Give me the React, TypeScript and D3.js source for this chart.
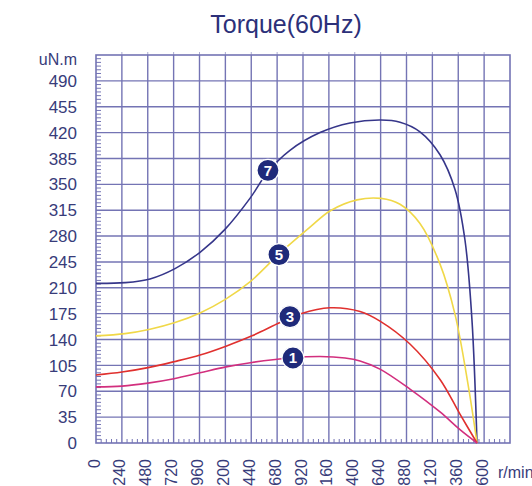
import React from "react";
import * as d3 from "d3";

const title = "Torque(60Hz)";
const yUnit = "uN.m";
const xUnit = "r/min";
const xTicks = [0, 240, 480, 720, 960, 1200, 1440, 1680, 1920, 2160, 2400, 2640, 2880, 3120, 3360, 3600];
const yTicks = [0, 35, 70, 105, 140, 175, 210, 245, 280, 315, 350, 385, 420, 455, 490];

const rpm7 = [0, 269, 501, 733, 965, 1196, 1428, 1595, 1799, 2078, 2356, 2643, 2820, 3005, 3191, 3330, 3422, 3487, 3534];
const torque7 = [216, 217, 222, 236, 258, 289, 331, 367, 396, 420, 433, 437, 434, 421, 390, 343, 275, 167, 0];

const rpm5 = [0, 269, 501, 733, 965, 1196, 1428, 1707, 1985, 2170, 2421, 2643, 2820, 3005, 3191, 3330, 3450, 3534];
const torque5 = [145, 148, 154, 163, 176, 194, 218, 257, 292, 314, 329, 331, 323, 297, 242, 174, 80, 0];

const rpm3 = [0, 241, 482, 723, 965, 1206, 1447, 1707, 1900, 2170, 2449, 2634, 2912, 3191, 3376, 3534];
const torque3 = [92, 96, 102, 110, 119, 131, 145, 163, 175, 183, 178, 165, 134, 86, 39, 0];

const rpm1 = [0, 241, 482, 723, 965, 1206, 1447, 1799, 2078, 2310, 2449, 2634, 2912, 3191, 3376, 3534];
const torque1 = [76, 77, 81, 87, 95, 103, 109, 115, 117, 115, 111, 100, 73, 42, 18, 0];

const seriesNames = ["7", "5", "3", "1"];
const seriesColors = ["#36368a", "#f0d848", "#e0302e", "#d22f7e"];
const markerRpm = [1595, 1697, 1799, 1827];
const markerTorque = [369, 255, 171, 115];

export default function App() {
  const left = 96, right = 510, top = 55, bottom = 443;
  const x = d3.scaleLinear().domain([0, 3840]).range([left, right]);
  const y = d3.scaleLinear().domain([0, 525]).range([bottom, top]);
  const grid = "#7474b4";
  const textColor = "#383c7a";
  const font = "'Liberation Sans', Arial, sans-serif";

  const series = [
    { rpm: rpm7, t: torque7 },
    { rpm: rpm5, t: torque5 },
    { rpm: rpm3, t: torque3 },
    { rpm: rpm1, t: torque1 },
  ];
  const line = d3
    .line<[number, number]>()
    .x((d) => x(d[0]))
    .y((d) => y(d[1]))
    .curve(d3.curveCatmullRom.alpha(0.5));

  const minorY = d3.range(0, 525, 5).filter((v) => v % 35 !== 0);
  const minorX = d3.range(0, 3840, 48).filter((v) => v % 240 !== 0);
  const vGrid = d3.range(240, 3840, 240);
  const hGrid = d3.range(35, 525, 35);

  return (
    <svg width={532} height={486} style={{ position: "absolute", left: 0, top: 0, background: "#fff" }} fontFamily={font}>
      <rect x={0} y={0} width={532} height={486} fill="#fff" />
      <text x={286} y={33} textAnchor="middle" fontSize={25} fill="#2c3079">{title}</text>
      {hGrid.map((v) => (
        <line key={"h" + v} x1={left} x2={right} y1={y(v)} y2={y(v)} stroke={grid} strokeWidth={1.4} />
      ))}
      {vGrid.map((v) => (
        <line key={"v" + v} x1={x(v)} x2={x(v)} y1={top} y2={bottom} stroke={grid} strokeWidth={1.4} />
      ))}
      {vGrid.map((v) => (
        <line key={"tt" + v} x1={x(v)} x2={x(v)} y1={top - 3} y2={top} stroke={grid} strokeWidth={1} opacity={0.6} />
      ))}
      {minorY.map((v) => (
        <line key={"my" + v} x1={left} x2={left + 5} y1={y(v)} y2={y(v)} stroke={grid} strokeWidth={1} />
      ))}
      {minorX.map((v) => (
        <line key={"mx" + v} x1={x(v)} x2={x(v)} y1={bottom} y2={bottom - 4} stroke={grid} strokeWidth={1} />
      ))}
      <rect x={left} y={top} width={right - left} height={bottom - top} fill="none" stroke={grid} strokeWidth={1.6} />
      {series.map((s, i) => (
        <path
          key={"s" + i}
          d={line(s.rpm.map((r, j) => [r, s.t[j]] as [number, number])) || ""}
          fill="none"
          stroke={seriesColors[i]}
          strokeWidth={1.6}
        />
      ))}
      {seriesNames.map((n, i) => (
        <g key={"m" + n} transform={`translate(${x(markerRpm[i])},${y(markerTorque[i])})`}>
          <circle r={11} fill="#1f2a7a" stroke="#fff" strokeWidth={1.2} />
          <text textAnchor="middle" dy="0.36em" fontSize={15} fontWeight="bold" fill="#fff">{n}</text>
        </g>
      ))}
      {yTicks.map((v) => (
        <text key={"yl" + v} x={77} y={y(v)} dy="0.36em" textAnchor="end" fontSize={17} fill={textColor}>{v}</text>
      ))}
      <text x={77} y={y(525) + 4} dy="0.36em" textAnchor="end" fontSize={16} fill={textColor}>{yUnit}</text>
      {xTicks.map((v) => (
        <text
          key={"xl" + v}
          transform={`translate(${x(v) - 2},459) rotate(-90)`}
          textAnchor="end"
          dominantBaseline="central"
          fontSize={16}
          fill={textColor}
        >
          {v}
        </text>
      ))}
      <text x={498} y={478} fontSize={16} fill={textColor}>{xUnit}</text>
    </svg>
  );
}
